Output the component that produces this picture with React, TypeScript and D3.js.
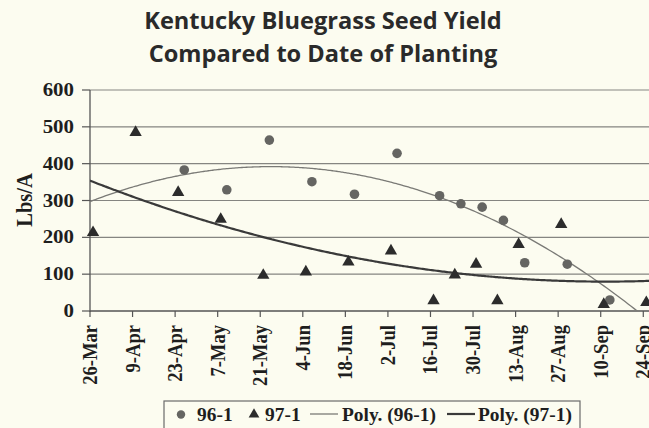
import React from 'react';
import * as d3 from 'd3';

// ---------- data ----------
const dates961 = ['26-Apr', '10-May', '24-May', '7-Jun', '21-Jun', '5-Jul', '19-Jul', '26-Jul', '2-Aug', '9-Aug', '16-Aug', '30-Aug', '13-Sep'];
const values961 = [383, 329, 464, 351, 317, 428, 313, 291, 282, 246, 131, 127, 30];

const dates971 = ['27-Mar', '10-Apr', '24-Apr', '8-May', '22-May', '5-Jun', '19-Jun', '3-Jul', '17-Jul', '24-Jul', '31-Jul', '7-Aug', '14-Aug', '28-Aug', '11-Sep', '25-Sep'];
const values971 = [213, 485, 322, 249, 97, 106, 133, 163, 28, 98, 127, 28, 181, 235, 18, 23];

// polynomial (order 2) trendline coefficients as shown in the chart:
// value = c0 + c1*d + c2*d^2, d = days since 26-Mar
const trendPoly961 = [297, 3.199, -0.02694];
const trendPoly971 = [354, -3.2346, 0.009539];

const yTicks = [0, 100, 200, 300, 400, 500, 600];
const xDomain = ['26-Mar', '8-Oct'];
const titleLines = ['Kentucky Bluegrass Seed Yield', 'Compared to Date of Planting'];
const yTitle = 'Lbs/A';
const legendLabels = ['96-1', '97-1', 'Poly. (96-1)', 'Poly. (97-1)'];

// ---------- helpers ----------
const parse = d3.timeParse('%d-%b');
const fmt = d3.timeFormat('%-d-%b');
const poly = (c: number[]) => (d: number) => c.reduce((s, k, i) => s + k * Math.pow(d, i), 0);

export default function App() {
  const W = 649;
  const H = 428;
  const left = 90;
  const top = 90;
  const bottom = 311;
  const start = parse(xDomain[0]) as Date;
  const end = parse(xDomain[1]) as Date;
  const dayW = 42.56 / 14;
  const right = left + d3.timeDay.count(start, end) * dayW;

  const x = d3.scaleTime().domain([start, end]).range([left, right]);
  const y = d3.scaleLinear().domain([0, 600]).range([bottom, top]);

  const xTicks = d3.timeDay.range(start, d3.timeDay.offset(end, 1), 14);

  const s961 = dates961.map((d, i) => ({ date: parse(d) as Date, v: values961[i] }));
  const s971 = dates971.map((d, i) => ({ date: parse(d) as Date, v: values971[i] }));

  const fit961 = poly(trendPoly961);
  const fit971 = poly(trendPoly971);

  const allDays = d3.range(0, d3.timeDay.count(start, end) + 0.5, 1);
  const line = d3
    .line<number>()
    .x((d) => x(d3.timeDay.offset(start, d)))
    .curve(d3.curveMonotoneX);
  const path961 = line.y((d) => y(fit961(d)))(allDays) || '';
  const path971 = line.y((d) => y(fit971(d)))(allDays) || '';

  const tri = d3.symbol(d3.symbolTriangle, 66)() || '';
  const triSmall = d3.symbol(d3.symbolTriangle, 50)() || '';

  const serif = "'Liberation Serif', 'Times New Roman', serif";
  const bg = '#fcfcf0';
  const circleFill = '#656562';
  const triFill = '#2c2c2c';
  const ink = '#1e1e1e';

  return (
    <svg
      width={W}
      height={H}
      style={{ position: 'absolute', left: 0, top: 0, background: bg }}
      viewBox={`0 0 ${W} ${H}`}
    >
      <defs>
        <clipPath id="plot">
          <rect x={left} y={top - 2} width={right - left} height={bottom - top + 2} />
        </clipPath>
      </defs>
      <rect x={0} y={0} width={W} height={H} fill={bg} />

      {/* title */}
      {titleLines.map((t, i) => (
        <text
          key={t}
          x={323}
          y={29 + i * 32.5}
          textAnchor="middle"
          fontFamily="'Open Sans', sans-serif"
          fontWeight={700}
          fontSize={23.6}
          fill="#2a2a2a"
        >
          {t}
        </text>
      ))}

      {/* gridlines */}
      {yTicks.slice(1).map((t) => (
        <line key={t} x1={left} x2={right} y1={y(t)} y2={y(t)} stroke="#858581" strokeWidth={1.2} />
      ))}

      {/* y axis */}
      <line x1={left} x2={left} y1={top} y2={bottom + 1} stroke="#555" strokeWidth={1.3} />
      {yTicks.map((t) => (
        <g key={t}>
          <line x1={left - 8} x2={left} y1={y(t)} y2={y(t)} stroke="#555" strokeWidth={1.2} />
          <text
            transform={`translate(${left - 16},${y(t) + 6}) scale(1.1,1)`}
            textAnchor="end"
            fontFamily={serif}
            fontWeight={700}
            fontSize={19}
            fill={ink}
          >
            {t}
          </text>
        </g>
      ))}
      <text
        transform={`translate(32,200) rotate(-90) scale(1,1.1)`}
        textAnchor="middle"
        fontFamily={serif}
        fontWeight={700}
        fontSize={20.5}
        fill={ink}
      >
        {yTitle}
      </text>

      {/* x axis */}
      <line x1={left} x2={right} y1={bottom} y2={bottom} stroke="#555" strokeWidth={1.3} />
      {xTicks.map((d) => (
        <g key={+d}>
          <line x1={x(d)} x2={x(d)} y1={bottom} y2={bottom + 6} stroke="#555" strokeWidth={1.2} />
          <text
            transform={`translate(${x(d) + 7},${bottom + 14}) rotate(-90) scale(1,1.08)`}
            textAnchor="end"
            fontFamily={serif}
            fontWeight={700}
            fontSize={18.6}
            fill={ink}
          >
            {fmt(d)}
          </text>
        </g>
      ))}

      {/* trendlines */}
      <g clipPath="url(#plot)">
        <path d={path961} fill="none" stroke="#7a7a76" strokeWidth={1.3} />
        <path d={path971} fill="none" stroke="#3a3a3a" strokeWidth={2.2} />
      </g>

      {/* markers */}
      {s961.map((p, i) => (
        <circle key={'c' + i} cx={x(p.date)} cy={y(p.v)} r={4.8} fill={circleFill} />
      ))}
      {s971.map((p, i) => (
        <path key={'t' + i} d={tri} transform={`translate(${x(p.date)},${y(p.v)})`} fill={triFill} />
      ))}

      {/* legend */}
      <rect x={164} y={401} width={416} height={40} fill={bg} stroke="#6a6a6a" strokeWidth={1.2} />
      <circle cx={181} cy={414.5} r={4.2} fill={circleFill} />
      <path d={triSmall} transform="translate(254,414.5)" fill={triFill} />
      <line x1={310} x2={338} y1={414} y2={414} stroke="#7a7a76" strokeWidth={1.3} />
      <line x1={447} x2={475} y1={414} y2={414} stroke="#3a3a3a" strokeWidth={2.2} />
      {[197, 265, 342, 478].map((lx, i) => (
        <text
          key={legendLabels[i]}
          transform={`translate(${lx},421) scale(1.08,1)`}
          fontFamily={serif}
          fontWeight={700}
          fontSize={18}
          fill={ink}
        >
          {legendLabels[i]}
        </text>
      ))}
    </svg>
  );
}
